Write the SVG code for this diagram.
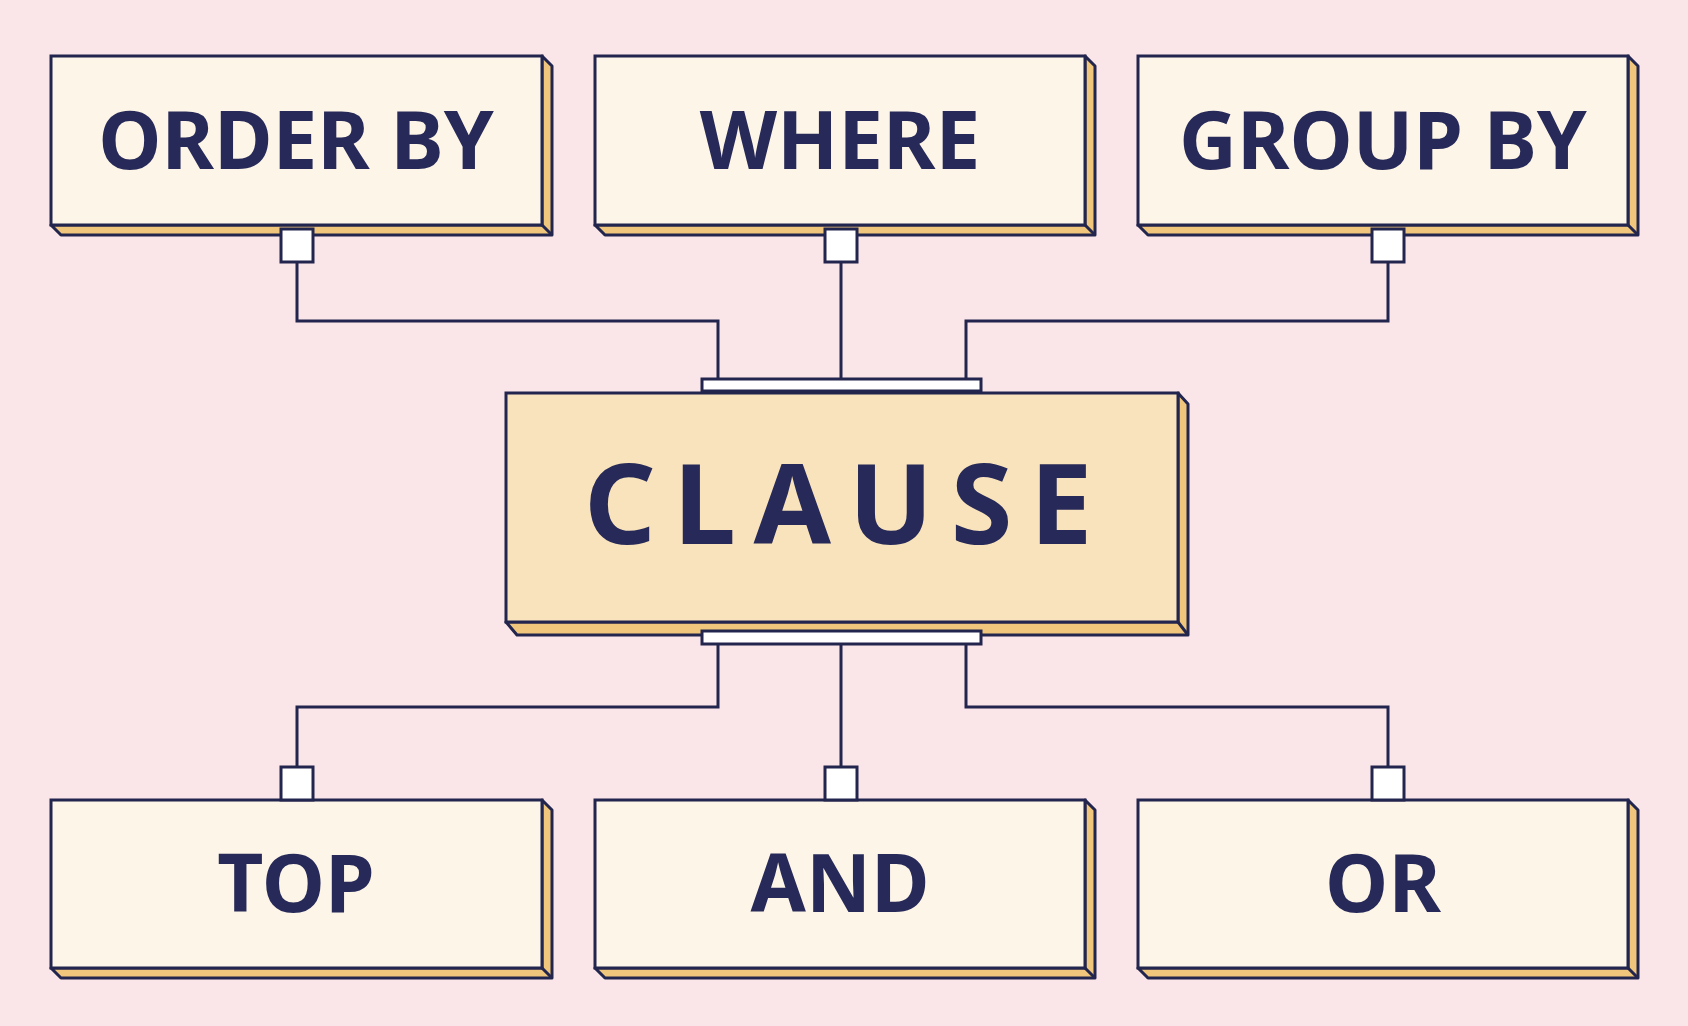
<svg xmlns="http://www.w3.org/2000/svg" width="1688" height="1026" viewBox="0 0 1688 1026">
<defs>
<style>
.bg{fill:#fae6e9}
.side{fill:#efc67c;stroke:#22254d;stroke-width:3;stroke-linejoin:round}
.front{fill:#fdf5e8;stroke:#22254d;stroke-width:3}
.cfront{fill:#f9e3bc;stroke:#22254d;stroke-width:3}
.port{fill:#ffffff;stroke:#22254d;stroke-width:3}
.wire{fill:none;stroke:#22254d;stroke-width:3}
.lbl{font-family:"Noto Sans","Open Sans","DejaVu Sans",sans-serif;font-weight:700;fill:#272a58;text-anchor:middle}
.small{font-size:80px}
.big{font-size:112px;letter-spacing:17.5px}
</style>
</defs>
<rect class="bg" x="0" y="0" width="1688" height="1026"/>

<g id="connectors">
<polyline class="wire" points="297,262 297,321 718,321 718,379"/>
<polyline class="wire" points="841,262 841,379"/>
<polyline class="wire" points="1388,262 1388,321 966,321 966,379"/>
<polyline class="wire" points="718,644 718,707 297,707 297,767"/>
<polyline class="wire" points="841,644 841,767"/>
<polyline class="wire" points="966,644 966,707 1388,707 1388,767"/>
</g>

<g id="node-clause">
<polygon class="side" points="1178,393 1188,404 1188,635 517,635 506,622 1178,622"/>
<line class="wire" x1="1178" y1="622" x2="1188" y2="635"/>
<rect class="cfront" x="506" y="393" width="672" height="229"/>
<rect class="port" x="702" y="379" width="279" height="12"/>
<rect class="port" x="702" y="631" width="279" height="13"/>
<text class="lbl big" x="847" y="544">CLAUSE</text>
</g>

<g id="node-order-by">
<polygon class="side" points="542,56 552,66 552,235 61,235 51,225 542,225"/>
<line class="wire" x1="542" y1="225" x2="552" y2="235"/>
<rect class="front" x="51" y="56" width="491" height="169"/>
<rect class="port" x="281" y="229" width="32" height="33"/>
<text class="lbl small" x="296" y="169">ORDER BY</text>
</g>

<g id="node-where">
<polygon class="side" points="1085,56 1095,66 1095,235 605,235 595,225 1085,225"/>
<line class="wire" x1="1085" y1="225" x2="1095" y2="235"/>
<rect class="front" x="595" y="56" width="490" height="169"/>
<rect class="port" x="825" y="229" width="32" height="33"/>
<text class="lbl small" x="840" y="169">WHERE</text>
</g>

<g id="node-group-by">
<polygon class="side" points="1628,56 1638,66 1638,235 1148,235 1138,225 1628,225"/>
<line class="wire" x1="1628" y1="225" x2="1638" y2="235"/>
<rect class="front" x="1138" y="56" width="490" height="169"/>
<rect class="port" x="1372" y="229" width="32" height="33"/>
<text class="lbl small" x="1383" y="169">GROUP BY</text>
</g>

<g id="node-top">
<polygon class="side" points="542,800 552,810 552,978 61,978 51,968 542,968"/>
<line class="wire" x1="542" y1="968" x2="552" y2="978"/>
<rect class="front" x="51" y="800" width="491" height="168"/>
<rect class="port" x="281" y="767" width="32" height="33"/>
<text class="lbl small" x="296" y="912">TOP</text>
</g>

<g id="node-and">
<polygon class="side" points="1085,800 1095,810 1095,978 605,978 595,968 1085,968"/>
<line class="wire" x1="1085" y1="968" x2="1095" y2="978"/>
<rect class="front" x="595" y="800" width="490" height="168"/>
<rect class="port" x="825" y="767" width="32" height="33"/>
<text class="lbl small" x="840" y="912">AND</text>
</g>

<g id="node-or">
<polygon class="side" points="1628,800 1638,810 1638,978 1148,978 1138,968 1628,968"/>
<line class="wire" x1="1628" y1="968" x2="1638" y2="978"/>
<rect class="front" x="1138" y="800" width="490" height="168"/>
<rect class="port" x="1372" y="767" width="32" height="33"/>
<text class="lbl small" x="1383" y="912">OR</text>
</g>
</svg>
